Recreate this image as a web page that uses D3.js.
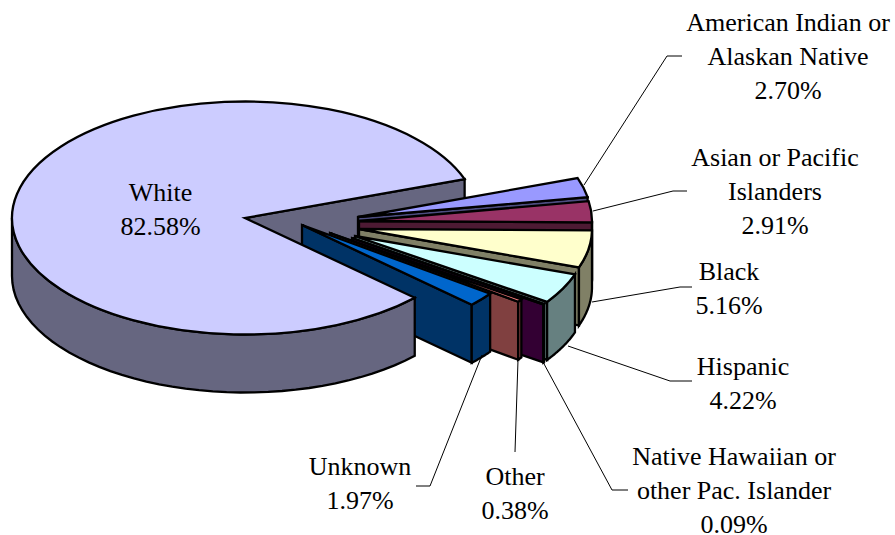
<!DOCTYPE html>
<html>
<head>
<meta charset="utf-8">
<script src="https://cdn.jsdelivr.net/npm/d3@7"></script>
<style>
  body { margin: 0; background: #fff; }
  text { font-family: "Liberation Serif", serif; font-size: 26px; fill: #000; }
</style>
</head>
<body>
<div id="chart"></div>
<script>
// values
var categories = ['American Indian or Alaskan Native', 'Asian or Pacific Islanders', 'Black', 'Hispanic',
  'Native Hawaiian or other Pac. Islander', 'Other', 'Unknown', 'White'];
var percents = [2.70, 2.91, 5.16, 4.22, 0.09, 0.38, 1.97, 82.58];
var topColors = ['#9999ff', '#993366', '#ffffcc', '#ccffff', '#660066', '#ff8080', '#0066cc', '#ccccff'];
var wallColors = ['#4d4d80', '#4d1a33', '#808066', '#668080', '#330033', '#804040', '#003366', '#666680'];

// how far each slice is pulled out of the pie, px
var explodeX = [113, 114, 114, 110, 107, 85, 57, 0];
var explodeY = [-1, 3, 11, 18, 20, 15, 7, 0];

// label text lines and where they sit, leaders are annotation only
var labelLines = [
  ['American Indian or', 'Alaskan Native'],
  ['Asian or Pacific', 'Islanders'],
  ['Black'],
  ['Hispanic'],
  ['Native Hawaiian or', 'other Pac. Islander'],
  ['Other'],
  ['Unknown'],
  ['White']
];
var labelX = [788, 775, 729, 743, 734, 515, 360, 160.5];
var labelY = [31, 166, 280, 375, 465, 485, 475, 201];
var leaders = [
  [[584, 185], [667, 56], [682, 56]],
  [[593, 211], [673, 191], [687, 191]],
  [[592, 302], [680, 287], [692, 287]],
  [[568, 346], [670, 381], [692, 381]],
  [[543, 362], [612, 490], [628, 490]],
  [[518, 360], [515, 452]],
  [[482, 355], [430, 486], [416, 486]]
];

var width = 895,
  height = 535,
  cx = 245,
  cy = 218,
  radius = 233,
  tilt = 0.5,
  depth = 58,
  edge = 2.3,
  firstAngle = (70.5 * Math.PI) / 180;

var svg = d3.select('#chart').append('svg').attr('width', width).attr('height', height);

// unit circle -> screen
var x = d3.scaleLinear().domain([-1, 1]).range([cx - radius, cx + radius]);
var y = d3.scaleLinear().domain([-1, 1]).range([cy - radius * tilt, cy + radius * tilt]);

var pie = d3
  .pie()
  .sort(null)
  .startAngle(firstAngle)
  .endAngle(firstAngle + 2 * Math.PI)
  .value(function (d) {
    return d;
  });
var slices = pie(percents);

var arc = d3.arc().innerRadius(0).outerRadius(radius);
var line = d3.line();

function rimPoint(a, i, drop) {
  return [x(Math.sin(a)) + explodeX[i], y(-Math.cos(a)) + explodeY[i] + drop];
}

function centrePoint(i, drop) {
  return [cx + explodeX[i], cy + explodeY[i] + drop];
}

// the cut face along the slice's end angle
function drawCutFace(g, d, i) {
  g.append('path')
    .attr('d', line([centrePoint(i, 0), rimPoint(d.endAngle, i, 0), rimPoint(d.endAngle, i, depth), centrePoint(i, depth)]) + 'Z')
    .attr('fill', wallColors[i])
    .attr('stroke', '#000')
    .attr('stroke-width', edge);
}

// the front rim, only the part that faces the viewer
function drawRim(g, d, i) {
  var a0 = Math.max(d.startAngle, Math.PI / 2),
    a1 = Math.min(d.endAngle, (3 * Math.PI) / 2);
  if (a1 <= a0) return;
  var angles = d3.range(0, 41).map(function (k) {
    return a0 + ((a1 - a0) * k) / 40;
  });
  var upper = angles.map(function (a) {
    return rimPoint(a, i, 0);
  });
  var lower = angles
    .map(function (a) {
      return rimPoint(a, i, depth);
    })
    .reverse();
  g.append('path')
    .attr('d', line(upper.concat(lower)) + 'Z')
    .attr('fill', wallColors[i])
    .attr('stroke', '#000')
    .attr('stroke-width', edge);
}

function drawTop(g, d, i) {
  g.append('path')
    .attr('d', arc(d))
    .attr('transform', 'translate(' + (cx + explodeX[i]) + ',' + (cy + explodeY[i]) + ') scale(1,' + tilt + ')')
    .attr('fill', topColors[i])
    .attr('stroke', '#000')
    .attr('stroke-width', edge)
    .attr('vector-effect', 'non-scaling-stroke');
}

// White's cut face goes behind everything, its top and rim in front
var whiteIndex = 7;
drawCutFace(svg.append('g'), slices[whiteIndex], whiteIndex);

slices.slice(0, whiteIndex).forEach(function (d, i) {
  var g = svg.append('g').attr('class', 'slice');
  drawCutFace(g, d, i);
  drawRim(g, d, i);
  drawTop(g, d, i);
});

var whiteFront = svg.append('g');
drawRim(whiteFront, slices[whiteIndex], whiteIndex);
drawTop(whiteFront, slices[whiteIndex], whiteIndex);

// leader lines
svg
  .append('g')
  .selectAll('path')
  .data(leaders)
  .enter()
  .append('path')
  .attr('d', function (d) {
    return line(d);
  })
  .attr('fill', 'none')
  .attr('stroke', '#000')
  .attr('stroke-width', 1);

// labels
var labels = svg
  .append('g')
  .selectAll('text')
  .data(categories)
  .enter()
  .append('text')
  .attr('text-anchor', 'middle')
  .attr('y', function (d, i) {
    return labelY[i];
  });

labels.each(function (d, i) {
  var lines = labelLines[i].concat([percents[i].toFixed(2) + '%']);
  d3.select(this)
    .selectAll('tspan')
    .data(lines)
    .enter()
    .append('tspan')
    .attr('x', labelX[i])
    .attr('dy', function (t, j) {
      return j === 0 ? 0 : 34;
    })
    .text(function (t) {
      return t;
    });
});
</script>
</body>
</html>
